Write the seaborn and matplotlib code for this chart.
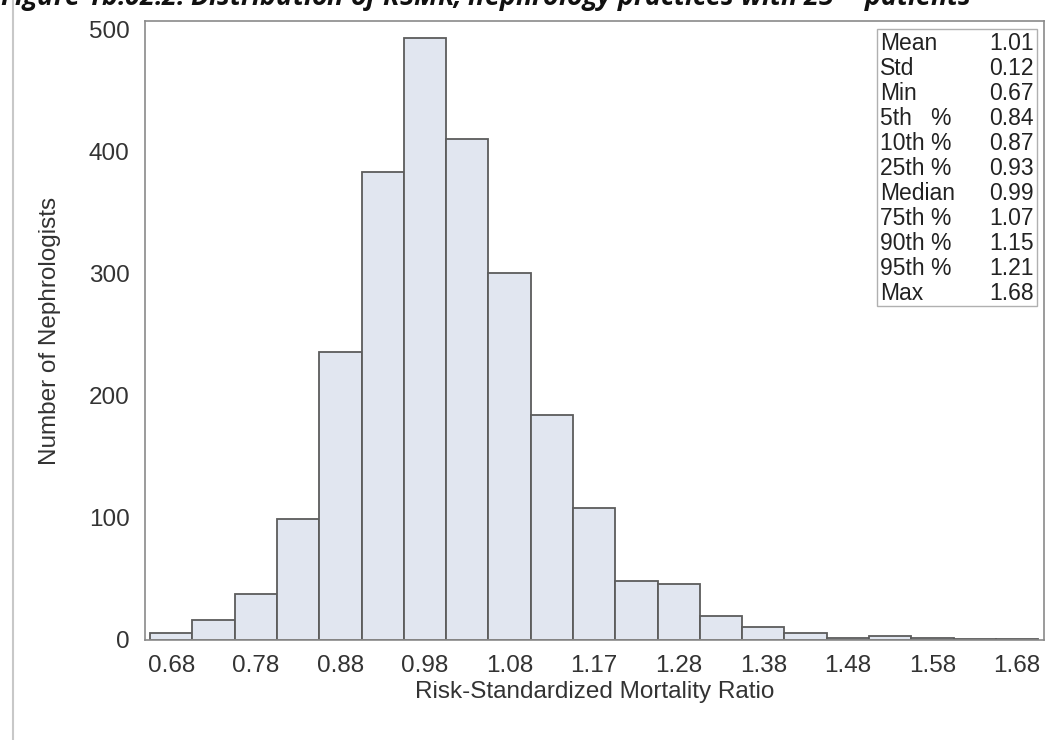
import matplotlib
matplotlib.use("Agg")
import matplotlib.pyplot as plt
import seaborn as sns
import pandas as pd

# bin midpoints (RSMR) and counts
mids = [0.68, 0.73, 0.78, 0.83, 0.88, 0.93, 0.98, 1.03, 1.08, 1.13, 1.18,
        1.23, 1.28, 1.33, 1.38, 1.43, 1.48, 1.53, 1.58, 1.63, 1.68]
counts = [6, 16, 38, 99, 236, 383, 493, 410, 301, 184, 108,
          48, 46, 20, 11, 6, 2, 3, 2, 1, 1]
tick_pos = [0.68, 0.78, 0.88, 0.98, 1.08, 1.18, 1.28, 1.38, 1.48, 1.58, 1.68]
tick_lab = ['0.68', '0.78', '0.88', '0.98', '1.08', '1.17', '1.28', '1.38', '1.48', '1.58', '1.68']

stat_names = ['Mean', 'Std', 'Min', '5th   %', '10th %', '25th %', 'Median', '75th %', '90th %', '95th %', 'Max']
stat_vals = ['1.01', '0.12', '0.67', '0.84', '0.87', '0.93', '0.99', '1.07', '1.15', '1.21', '1.68']

sns.set_style('white')
plt.rcParams['font.family'] = ['Liberation Sans', 'DejaVu Sans']

fig = plt.figure(figsize=(10.53, 7.4), dpi=100)
ax = fig.add_axes([145/1053, 1-640/740, (1044-145)/1053, (640-21)/740])

bw = 0.05
edges = [m - bw/2 for m in mids] + [mids[-1] + bw/2]
df = pd.DataFrame({'rsmr': mids, 'n': counts})
sns.histplot(data=df, x='rsmr', weights='n', bins=edges, color='#e1e6f0', alpha=1,
             edgecolor='#5c5c5c', linewidth=1.3, ax=ax)

ax.set_xlim(0.649, 1.712)
ax.set_ylim(0, 507)
ax.set_xticks(tick_pos)
ax.set_xticklabels(tick_lab)
ax.set_yticks([0, 100, 200, 300, 400, 500])
ax.tick_params(axis='both', direction='out', length=7, width=1, color='#8a8a8a',
               labelsize=17.5, labelcolor='#333333', pad=4)
for s in ax.spines.values():
    s.set_color('#8a8a8a')
    s.set_linewidth(1.2)
ax.set_xlabel('Risk-Standardized Mortality Ratio', fontsize=17.5, color='#333333', labelpad=3)
ax.set_ylabel('Number of Nephrologists', fontsize=17.5, color='#333333', labelpad=20)

# stats inset box
bx0, bx1, by0, by1 = 877/1053, 1037/1053, 1-306/740, 1-29/740
fig.patches.append(plt.Rectangle((bx0, by0), bx1-bx0, by1-by0, transform=fig.transFigure,
                                 facecolor='white', edgecolor='#b0b0b0', linewidth=1))
for i, (n, v) in enumerate(zip(stat_names, stat_vals)):
    y = 1 - (44 + i*24.9)/740
    fig.text(880/1053, y, n, fontsize=16.5, color='#222222', va='center', ha='left')
    fig.text(1034/1053, y, v, fontsize=16.5, color='#222222', va='center', ha='right')

# page border line on the left
fig.add_artist(plt.Line2D([13/1053, 13/1053], [0, 1], transform=fig.transFigure,
                          color='#c8c8c8', linewidth=1.5))

# title, cut off at the top edge as in the source page
fig.text(0.0, 1-6/740, 'Figure 1b.02.2: Distribution of RSMR, nephrology practices with 25$^+$ patients',
         fontsize=19.4, style='italic', fontweight='bold', family=['Open Sans', 'DejaVu Sans'],
         ha='left', va='baseline', color='#111111')

fig.savefig('out.png', dpi=100)
